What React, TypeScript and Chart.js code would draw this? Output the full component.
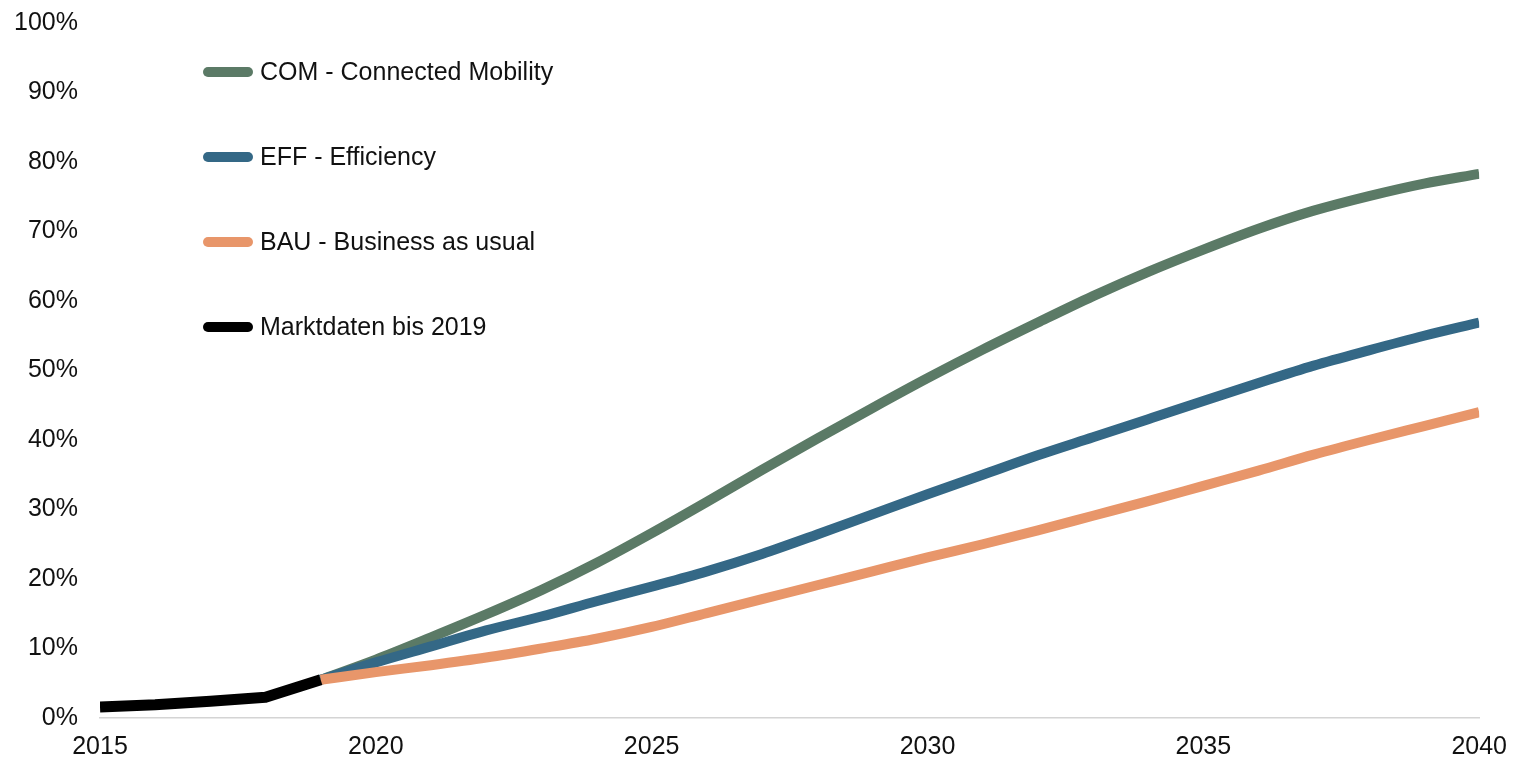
import React, { useEffect, useRef } from "react";
import { Chart, registerables } from "chart.js";

Chart.register(...registerables);

const histYears = [2015, 2016, 2017, 2018, 2019];
const histValues = [1.6, 1.9, 2.4, 3.0, 5.5];

const projYears = [2019, 2020, 2021, 2022, 2023, 2024, 2025, 2026, 2027, 2028, 2029, 2030, 2031, 2032, 2033, 2034, 2035, 2036, 2037, 2038, 2039, 2040];
const comValues = [5.5, 8.4, 11.6, 14.9, 18.4, 22.3, 26.6, 31.1, 35.7, 40.2, 44.6, 48.9, 53.0, 56.9, 60.7, 64.2, 67.4, 70.4, 73.0, 75.1, 76.9, 78.3];
const effValues = [5.5, 8.0, 10.3, 12.6, 14.6, 16.8, 18.9, 21.1, 23.6, 26.4, 29.3, 32.2, 35.0, 37.8, 40.4, 43.0, 45.6, 48.2, 50.7, 52.9, 55.0, 56.9];
const bauValues = [5.5, 6.6, 7.6, 8.7, 10.0, 11.4, 13.1, 15.1, 17.1, 19.1, 21.1, 23.1, 25.0, 27.0, 29.1, 31.2, 33.4, 35.6, 37.9, 40.0, 42.0, 44.0];

const labels = ["COM - Connected Mobility", "EFF - Efficiency", "BAU - Business as usual", "Marktdaten bis 2019"];
const colors = ["#5B7A66", "#346886", "#E8966A", "#000000"];

const FONT = "'Liberation Sans', Arial, sans-serif";

const toPts = (xs: number[], ys: number[]) => xs.map((x, i) => ({ x, y: ys[i] }));

const legendPlugin = {
  id: "customLegend",
  afterDraw(chart: any) {
    const ctx = chart.ctx;
    ctx.save();
    const x0 = 200;
    const x1 = 240;
    const startY = 64;
    const gap = 85;
    labels.forEach((lab, i) => {
      const y = startY + i * gap;
      ctx.strokeStyle = colors[i];
      ctx.lineWidth = 10;
      ctx.lineCap = "round";
      ctx.beginPath();
      ctx.moveTo(x0, y);
      ctx.lineTo(x1, y);
      ctx.stroke();
      ctx.fillStyle = "#111";
      ctx.font = `25px ${FONT}`;
      ctx.textBaseline = "middle";
      ctx.textAlign = "left";
      ctx.fillText(lab, 252, y + 1);
    });
    ctx.restore();
  },
};

export default function App() {
  const ref = useRef<HTMLCanvasElement>(null);
  useEffect(() => {
    if (!ref.current) return;
    const chart = new Chart(ref.current, {
      type: "line",
      data: {
        datasets: [
          { label: labels[3], data: toPts(histYears, histValues), borderColor: colors[3], borderWidth: 11, pointRadius: 0, tension: 0, borderCapStyle: "butt", borderJoinStyle: "round" },
          { label: labels[2], data: toPts(projYears, bauValues), borderColor: colors[2], borderWidth: 10, pointRadius: 0, tension: 0.4, cubicInterpolationMode: "monotone" },
          { label: labels[1], data: toPts(projYears, effValues), borderColor: colors[1], borderWidth: 10, pointRadius: 0, tension: 0.4, cubicInterpolationMode: "monotone" },
          { label: labels[0], data: toPts(projYears, comValues), borderColor: colors[0], borderWidth: 10, pointRadius: 0, tension: 0.4, cubicInterpolationMode: "monotone" },
        ],
      },
      options: {
        animation: false,
        responsive: false,
        maintainAspectRatio: false,
        layout: { padding: { left: 0, right: 0, top: 14, bottom: 0 } },
        plugins: { legend: { display: false }, tooltip: { enabled: false } },
        scales: {
          x: {
            type: "linear",
            min: 2015,
            max: 2040,
            grid: { display: false, drawTicks: true, tickLength: 14 },
            border: { display: true, color: "#d4d4d4", width: 1.5 },
            ticks: { stepSize: 5, padding: 0, color: "#111", font: { family: FONT, size: 25 }, callback: (v: any) => String(v), maxRotation: 0 },
            afterFit: (s: any) => { s.height = 37; },
          },
          y: {
            min: 0,
            max: 100,
            grid: { display: false, drawTicks: true, tickLength: 22 },
            border: { display: false },
            ticks: { stepSize: 10, padding: 0, color: "#111", font: { family: FONT, size: 25 }, callback: (v: any) => v + "%" },
            afterFit: (s: any) => { s.width = 92; },
          },
        },
      },
      plugins: [legendPlugin],
    });
    return () => chart.destroy();
  }, []);
  return (
    <div style={{ width: 1499, height: 747 }}>
      <canvas ref={ref} width={1499} height={747} style={{ display: "block" }} />
    </div>
  );
}
